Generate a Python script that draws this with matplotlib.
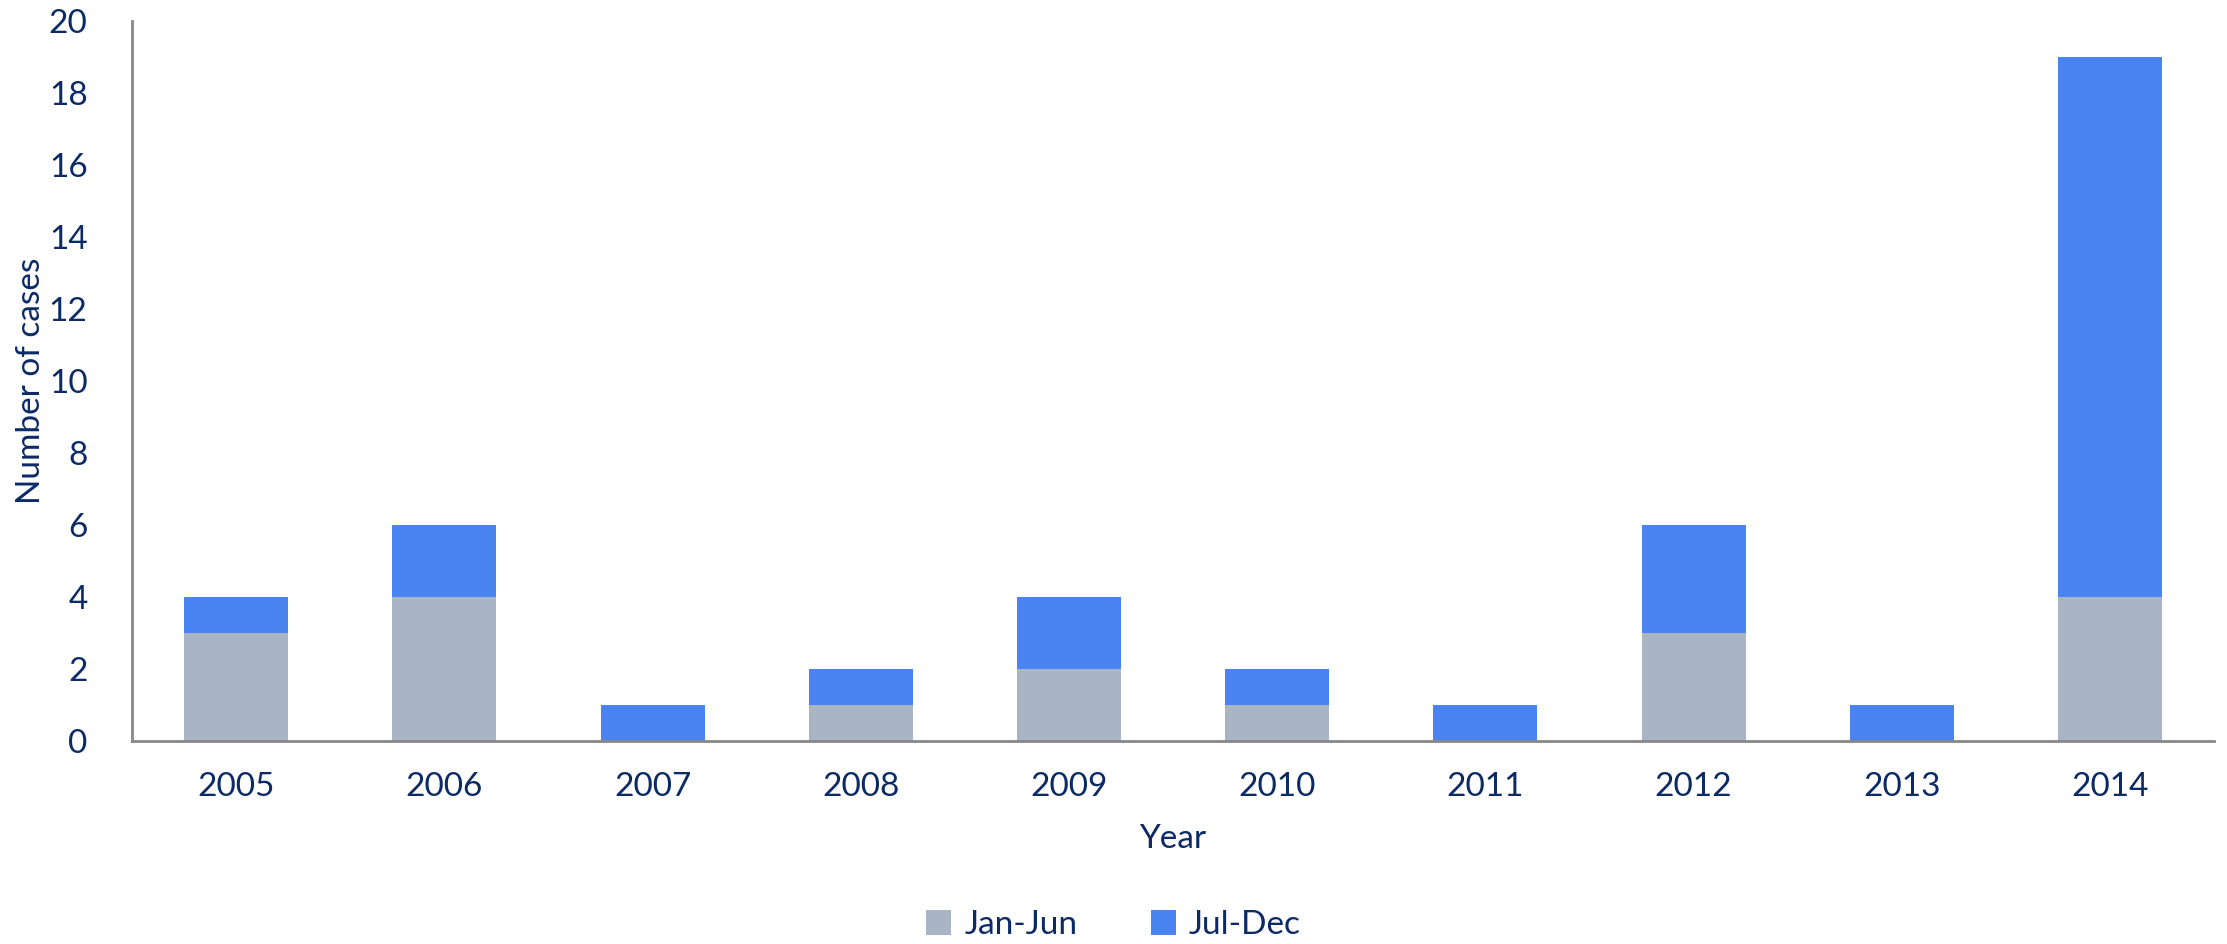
import matplotlib
matplotlib.use("Agg")
import matplotlib.pyplot as plt

years = ["2005", "2006", "2007", "2008", "2009", "2010", "2011", "2012", "2013", "2014"]
jan_jun = [3, 4, 0, 1, 2, 1, 0, 3, 0, 4]
jul_dec = [1, 2, 1, 1, 2, 1, 1, 3, 1, 15]

text_col = "#0B2A66"
grey = "#A9B4C4"
blue = "#4A84F0"

plt.rcParams['font.family'] = ['Lato', 'DejaVu Sans']

fig = plt.figure(figsize=(22.27, 9.44), dpi=100)
ax = fig.add_axes([0.0593, 0.215, 0.9349, 0.7628])

x = range(len(years))
ax.bar(x, jan_jun, width=0.5, color=grey, label="Jan-Jun")
ax.bar(x, jul_dec, width=0.5, bottom=jan_jun, color=blue, label="Jul-Dec")

ax.set_xlim(-0.5, len(years) - 0.5)
ax.set_ylim(0, 20)
ax.set_yticks(range(0, 21, 2))
ax.set_xticks(list(x))
ax.set_xticklabels(years)
ax.tick_params(axis="both", length=0, labelsize=24, labelcolor=text_col)
ax.tick_params(axis="x", pad=22)
ax.tick_params(axis="y", pad=32)

for s in ["top", "right"]:
    ax.spines[s].set_visible(False)
for s in ["left", "bottom"]:
    ax.spines[s].set_color("#888888")
    ax.spines[s].set_linewidth(2)

ax.set_xlabel("Year", fontsize=24, color=text_col, labelpad=16)
ax.set_ylabel("Number of cases", fontsize=24, color=text_col, labelpad=2)

fig.legend(loc="center", bbox_to_anchor=(0.5, 0.02), borderaxespad=0.0,
           ncol=2, frameon=False,
           fontsize=24, labelcolor=text_col, handlelength=0.75, handleheight=0.75,
           columnspacing=2.2, handletextpad=0.4)

fig.savefig("out.png", dpi=100)
